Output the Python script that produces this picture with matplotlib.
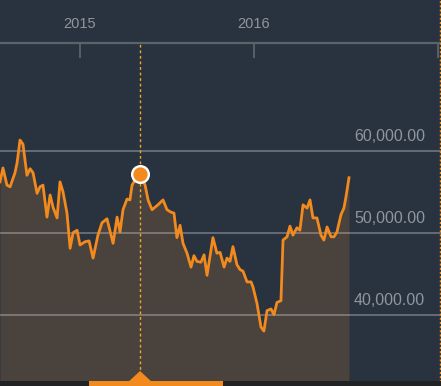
import matplotlib
matplotlib.use("Agg")
import matplotlib.pyplot as plt
from matplotlib.patches import Rectangle, Polygon
import matplotlib.transforms as mtransforms

# decimal years and index values
years = [
    2014.540, 2014.557, 2014.580, 2014.598, 2014.626, 2014.638, 2014.655, 2014.672,
    2014.695, 2014.713, 2014.730, 2014.753, 2014.770, 2014.787, 2014.810, 2014.828,
    2014.845, 2014.868, 2014.885, 2014.902, 2014.925, 2014.943, 2014.960, 2014.983,
    2015.000, 2015.029, 2015.052, 2015.075, 2015.103, 2015.126, 2015.155, 2015.190,
    2015.213, 2015.230, 2015.247, 2015.270, 2015.287, 2015.299, 2015.316, 2015.345,
    2015.374, 2015.391, 2015.414, 2015.448, 2015.477, 2015.500, 2015.523, 2015.540,
    2015.557, 2015.575, 2015.592, 2015.615, 2015.638, 2015.655, 2015.672, 2015.695,
    2015.713, 2015.730, 2015.764, 2015.787, 2015.805, 2015.828, 2015.845, 2015.862,
    2015.879, 2015.902, 2015.920, 2015.937, 2015.960, 2015.983, 2015.994, 2016.017,
    2016.040, 2016.057, 2016.075, 2016.098, 2016.115, 2016.132, 2016.155, 2016.167,
    2016.190, 2016.207, 2016.224, 2016.247, 2016.264, 2016.282, 2016.305, 2016.322,
    2016.339, 2016.362, 2016.385, 2016.402, 2016.420, 2016.443, 2016.460, 2016.477,
    2016.500, 2016.517, 2016.529, 2016.546,
]
values = [
    56200, 57900, 55800, 55600, 57300, 58500, 61300, 60800,
    57000, 57800, 57300, 54800, 55600, 55800, 51900, 54600,
    53100, 51800, 56200, 55000, 52400, 48100, 50000, 50300,
    48500, 48900, 49000, 46900, 49700, 51200, 51700, 48700,
    51900, 50100, 52800, 54100, 54000, 55800, 56400, 57200,
    55800, 54000, 52800, 53400, 54000, 52800, 52500, 52400,
    49400, 50900, 48700, 47500, 45800, 47200, 46500, 46400,
    47300, 44800, 49400, 47500, 47600, 45800, 46900, 46500,
    48300, 46100, 45500, 45300, 44000, 44000, 43400, 41400,
    38500, 38000, 40500, 40700, 40000, 41500, 41700, 49100,
    49500, 50800, 49700, 50600, 50300, 53400, 53000, 54000,
    51800, 51800, 49700, 49100, 50700, 49500, 49500, 50100,
    52200, 53000, 54400, 56700,
]
highlight_idx = 39
year_ticks = [2015, 2016]
year_labels = ["2015", "2016"]
grid_values = [40000, 50000, 60000]
grid_labels = ["40,000.00", "50,000.00", "60,000.00"]
sel_start, sel_end = 2015.052, 2015.822

bg = "#29333f"
fill_c = "#4a423c"
line_c = "#f28a1e"
axis_c = "#5b636b"
text_c = "#8f969d"

fig = plt.figure(figsize=(4.41, 3.86), dpi=100, facecolor=bg)
ax = fig.add_axes([0, 0, 1, 1], facecolor=bg)
ax.set_xlim(2014.540, 2017.075)
ylo, yhi = 31305, 78378
ax.set_ylim(ylo, yhi)

# area + line
ax.fill_between(years, values, ylo, color=fill_c, lw=0, zorder=1)
for v, lab in zip(grid_values, grid_labels):
    ax.axhline(v, color="white", alpha=0.33, lw=1.2, zorder=2)
    ax.annotate(lab, xy=(2016.575, v), xytext=(0, 7), textcoords="offset points",
                ha="left", va="baseline", color=text_c, fontsize=11.5,
                family="Liberation Sans", zorder=3)
ax.plot(years, values, color=line_c, lw=2.0, zorder=4, solid_joinstyle="round")

# top axis with ticks pointing down
for s in ["left", "right", "bottom"]:
    ax.spines[s].set_visible(False)
ax.spines["top"].set_position(("data", 73134))
ax.spines["top"].set_color(axis_c)
ax.spines["top"].set_linewidth(1.6)
ax.xaxis.tick_top()
ax.set_xticks(year_ticks + [2017.057])
ax.set_xticklabels(year_labels + [""], color=text_c, fontsize=10.5,
                   family="Liberation Sans")
ax.tick_params(axis="x", direction="in", length=11, width=1.3, color=axis_c, pad=9)
ax.set_yticks([])

# crosshair on the highlighted week
hx, hy = years[highlight_idx], values[highlight_idx]
ax.vlines(hx, ylo, 73134, color="#f5a623", lw=1, linestyles=(0, (2, 2)), zorder=3)
ax.axvline(2017.068, color=line_c, lw=1, linestyle=(0, (1.5, 1.5)), zorder=3)
ax.plot(hx, hy, "o", ms=12, color=line_c, mec="white", mew=1.7, zorder=5)

# bottom range bar
trans = mtransforms.blended_transform_factory(ax.transData, ax.transAxes)
bar_h = 5 / 386
ax.add_patch(Rectangle((0, 0), 1, bar_h, transform=ax.transAxes,
                       color="#202224", lw=0, zorder=6))
ax.add_patch(Rectangle((sel_start, 0), sel_end - sel_start, bar_h, transform=trans,
                       color=line_c, lw=0, zorder=7))
ax.add_patch(Polygon([(hx - 0.062, bar_h), (hx, 15 / 386), (hx + 0.062, bar_h)],
                     closed=True, transform=trans, color=line_c, lw=0, zorder=7))

fig.savefig("out.png", dpi=100, facecolor=bg)
